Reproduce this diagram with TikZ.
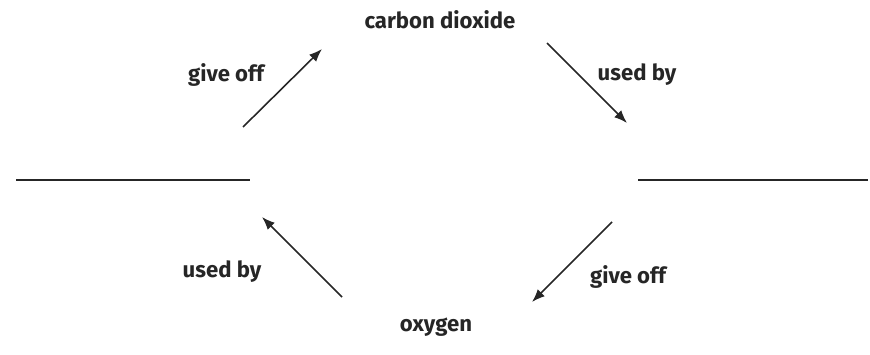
\documentclass[tikz,border=0pt]{standalone}
\usepackage{fontspec}
\setmainfont{Fira Sans}
\usetikzlibrary{arrows.meta}

\tikzset{
  word/.style={font=\bfseries\fontsize{12.6}{14}\selectfont, text=black!85},
  cycle arrow/.style={-{Latex[length=2.6mm,width=2mm]}, line width=0.9pt, black!85},
  blank/.style={line width=0.9pt, black!85}
}

\begin{document}
\begin{tikzpicture}
        \useasboundingbox (0,0) rectangle (17.4,7.1);
        % ==== SUBSTANCES ====
        \node[word] (co2) at (8.8,6.7) {carbon dioxide};
        \node[word] (oxy) at (8.72,0.56) {oxygen};
        % ==== BLANK LINES ====
        \coordinate (left a) at (0.32,3.5);
        \coordinate (left b) at (5.0,3.5);
        \coordinate (right a) at (12.76,3.5);
        \coordinate (right b) at (17.36,3.5);
        \draw[blank] (left a) -- (left b);
        \draw[blank] (right a) -- (right b);
        % ==== ARROWS ====
        \coordinate (go1 s) at (4.86,4.56);
        \coordinate (go1 e) at (6.44,6.12);
        \coordinate (ub1 s) at (10.94,6.24);
        \coordinate (ub1 e) at (12.54,4.64);
        \coordinate (go2 s) at (12.24,2.66);
        \coordinate (go2 e) at (10.64,1.06);
        \coordinate (ub2 s) at (6.84,1.16);
        \coordinate (ub2 e) at (5.24,2.76);
        \draw[cycle arrow] (go1 s) -- (go1 e);
        \draw[cycle arrow] (ub1 s) -- (ub1 e);
        \draw[cycle arrow] (go2 s) -- (go2 e);
        \draw[cycle arrow] (ub2 s) -- (ub2 e);
        % ==== LABELS ====
        \node[word] (go1) at (4.52,5.6) {give off};
        \node[word] (ub1) at (12.74,5.6) {used by};
        \node[word] (go2) at (12.56,1.56) {give off};
        \node[word] (ub2) at (4.44,1.66) {used by};
\end{tikzpicture}
\end{document}
